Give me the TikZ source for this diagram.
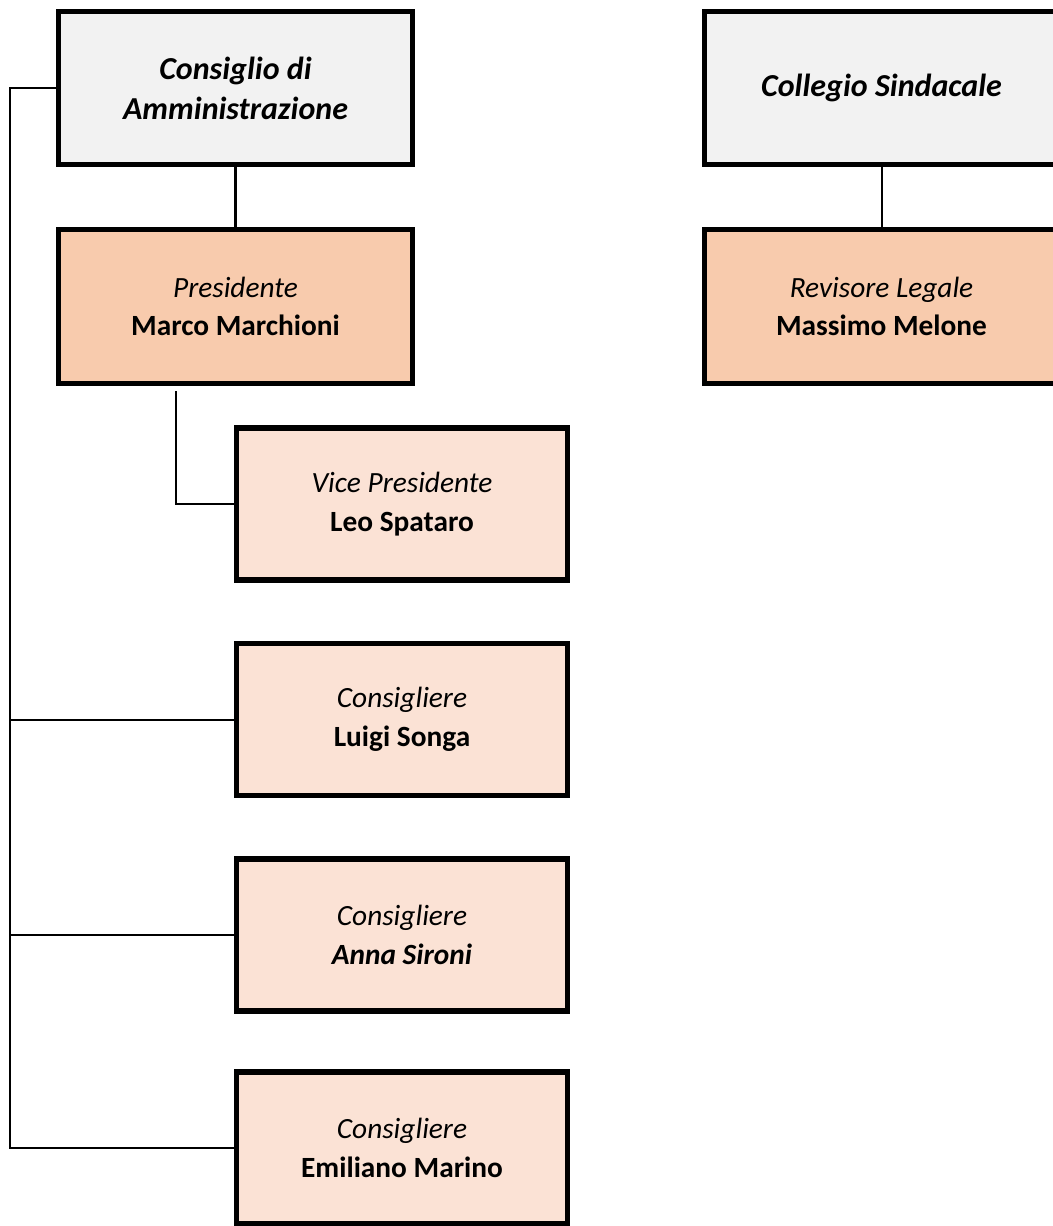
\documentclass[tikz,border=0pt]{standalone}
\usepackage{fontspec}
\setmainfont{Carlito}
\usetikzlibrary{calc}

\definecolor{boardgrey}{RGB}{242,242,242}
\definecolor{chairpeach}{RGB}{248,203,173}
\definecolor{memberpeach}{RGB}{251,226,213}

\tikzset{every picture/.style={line width=0.75pt}}
\tikzset{
organbox/.style={draw=black, line width=3.9pt, fill=boardgrey, minimum width=265.5pt, minimum height=115pt, align=center, inner sep=0.75pt, font=\fontsize{24}{30}\selectfont\bfseries\itshape},
chairbox/.style={draw=black, line width=3.9pt, fill=chairpeach, minimum width=265.5pt, minimum height=115pt, align=center, inner sep=0.75pt, font=\fontsize{22}{29}\selectfont},
memberbox/.style={draw=black, line width=3.9pt, fill=memberpeach, minimum width=248.5pt, minimum height=114pt, align=center, inner sep=0.75pt, font=\fontsize{22}{29}\selectfont},
link/.style={draw=black, line width=1.5pt}}

\begin{document}
\begin{tikzpicture}[x=0.75pt,y=0.75pt,yscale=-1,xscale=1]
%set diagram left start at 0, and has height of 1226
\useasboundingbox (0,0) rectangle (1052,1226);

%Shape: Rectangle [id:cda] 
\node [organbox] (cda) at (235.5,88) {Consiglio di\\Amministrazione};
%Shape: Rectangle [id:pres] 
\node [chairbox] (pres) at (235.5,306.5) {\itshape Presidente\\\bfseries Marco Marchioni};
%Shape: Rectangle [id:collegio] 
\node [organbox] (collegio) at (881.5,88) {Collegio Sindacale};
%Shape: Rectangle [id:revisore] 
\node [chairbox] (revisore) at (881.5,306.5) {\itshape Revisore Legale\\\bfseries Massimo Melone};
%Shape: Rectangle [id:vice] 
\node [memberbox] (vice) at (402,504) {\itshape Vice Presidente\\\bfseries Leo Spataro};
%Shape: Rectangle [id:songa] 
\node [memberbox] (songa) at (402,719.5) {\itshape Consigliere\\\bfseries Luigi Songa};
%Shape: Rectangle [id:sironi] 
\node [memberbox] (sironi) at (402,935) {\itshape Consigliere\\\bfseries\itshape Anna Sironi};
%Shape: Rectangle [id:marino] 
\node [memberbox] (marino) at (402,1148) {\itshape Consigliere\\\bfseries Emiliano Marino};

%Straight Lines [id:cda-pres] 
\draw [link, line width=2.25pt] (cda) -- (pres);
%Straight Lines [id:collegio-revisore] 
\draw [link] (collegio) -- (revisore);
%Straight Lines [id:pres-vice] 
\coordinate (presfoot) at (176,391);
\draw [link] (presfoot) |- (vice.west);
%Straight Lines [id:bus] 
\coordinate (bus) at (10,88);
\draw [link] (cda.west) -- (bus) |- (marino.west);
\draw [link] (bus |- songa.west) -- (songa.west);
\draw [link] (bus |- sironi.west) -- (sironi.west);

\end{tikzpicture}
\end{document}
